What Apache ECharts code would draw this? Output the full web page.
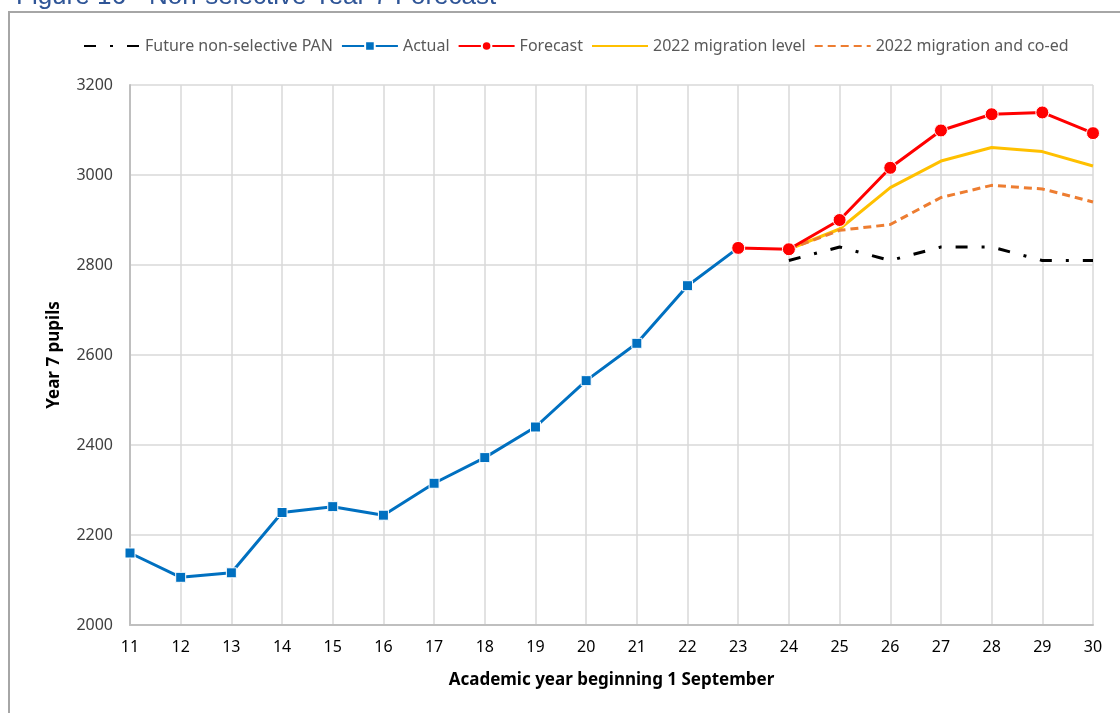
<!DOCTYPE html>
<html>
<head>
<meta charset="utf-8">
<script src="https://cdn.jsdelivr.net/npm/echarts@6/dist/echarts.min.js"></script>
<style>
html,body{margin:0;padding:0;background:#fff;}
#chart{width:1120px;height:713px;}
</style>
</head>
<body>
<div id="chart"></div>
<script>
const years = ['11','12','13','14','15','16','17','18','19','20','21','22','23','24','25','26','27','28','29','30'];
const panValues = [null,null,null,null,null,null,null,null,null,null,null,null,null,2810,2840,2810,2840,2840,2810,2810];
const actualValues = [2160,2106,2116,2250,2263,2244,2315,2372,2440,2543,2626,2754,2838,null,null,null,null,null,null,null];
const forecastValues = [null,null,null,null,null,null,null,null,null,null,null,null,2838,2835,2900,3016,3099,3135,3139,3093];
const migrationValues = [null,null,null,null,null,null,null,null,null,null,null,null,null,2835,2880,2972,3031,3061,3052,3020];
const coedValues = [null,null,null,null,null,null,null,null,null,null,null,null,null,2835,2877,2890,2950,2977,2969,2940];
const yTicks = {min:2000, max:3200, interval:200};

const chart = echarts.init(document.getElementById('chart'));
const font = 'Noto Sans';
const hidden = {opacity:0};
chart.setOption({
  animation:false,
  backgroundColor:'#fff',
  graphic:[
    {type:'text', left:16, top:-16, style:{text:'Figure 16 - Non-selective Year 7 Forecast', font:'26px "Liberation Sans"', fill:'#2F5597'}},
    {type:'polyline', shape:{points:[[9,713],[9,12],[1120,12]]}, style:{stroke:'#a6a6a6', lineWidth:2, fill:null}, z:10}
  ],
  legend:{
    top:33, left:78,
    itemWidth:56, itemHeight:12, itemGap:8,
    textStyle:{fontFamily:font, fontSize:16, color:'#595959'},
    data:[
      {name:'Future non-selective PAN', itemStyle:hidden},
      'Actual','Forecast',
      {name:'2022 migration level', itemStyle:hidden},
      {name:'2022 migration and co-ed', itemStyle:hidden}
    ]
  },
  grid:{left:130, right:27, top:85, bottom:88},
  xAxis:{
    type:'category', data:years, boundaryGap:false,
    name:'Academic year beginning 1 September', nameLocation:'middle', nameGap:47,
    nameTextStyle:{fontFamily:font, fontSize:17, fontWeight:'bold', color:'#000'},
    axisLine:{lineStyle:{color:'#bfbfbf', width:2}},
    axisTick:{show:false},
    axisLabel:{fontFamily:font, fontSize:16, color:'#000', margin:14},
    splitLine:{show:true, lineStyle:{color:'#d9d9d9', width:1.5}}
  },
  yAxis:{
    type:'value', min:yTicks.min, max:yTicks.max, interval:yTicks.interval,
    name:'Year 7 pupils', nameLocation:'middle', nameGap:67, nameRotate:90,
    nameTextStyle:{fontFamily:font, fontSize:17, fontWeight:'bold', color:'#000'},
    axisLine:{show:true, lineStyle:{color:'#bfbfbf', width:2}},
    axisTick:{show:false},
    axisLabel:{fontFamily:font, fontSize:16, color:'#404040', margin:17, formatter:v => String(v)},
    splitLine:{show:true, lineStyle:{color:'#d9d9d9', width:1.5}}
  },
  series:[
    {name:'Future non-selective PAN', type:'line', data:panValues, symbol:'none', z:2,
     lineStyle:{color:'#000', width:3, type:[12,14,3,14]}, itemStyle:{color:'#000'}},
    {name:'Actual', type:'line', data:actualValues, symbol:'rect', symbolSize:10, z:3,
     lineStyle:{color:'#0070C0', width:3}, itemStyle:{color:'#0070C0', borderColor:'#fff', borderWidth:1}},
    {name:'2022 migration level', type:'line', data:migrationValues, symbol:'none', z:3,
     lineStyle:{color:'#FFC000', width:3}, itemStyle:{color:'#FFC000'}},
    {name:'2022 migration and co-ed', type:'line', data:coedValues, symbol:'none', z:3,
     lineStyle:{color:'#ED7D31', width:3, type:[8,5]}, itemStyle:{color:'#ED7D31'}},
    {name:'Forecast', type:'line', data:forecastValues, symbol:'circle', symbolSize:13, z:5,
     lineStyle:{color:'#FF0000', width:3}, itemStyle:{color:'#FF0000', borderColor:'#fff', borderWidth:1}}
  ]
});
</script>
</body>
</html>
